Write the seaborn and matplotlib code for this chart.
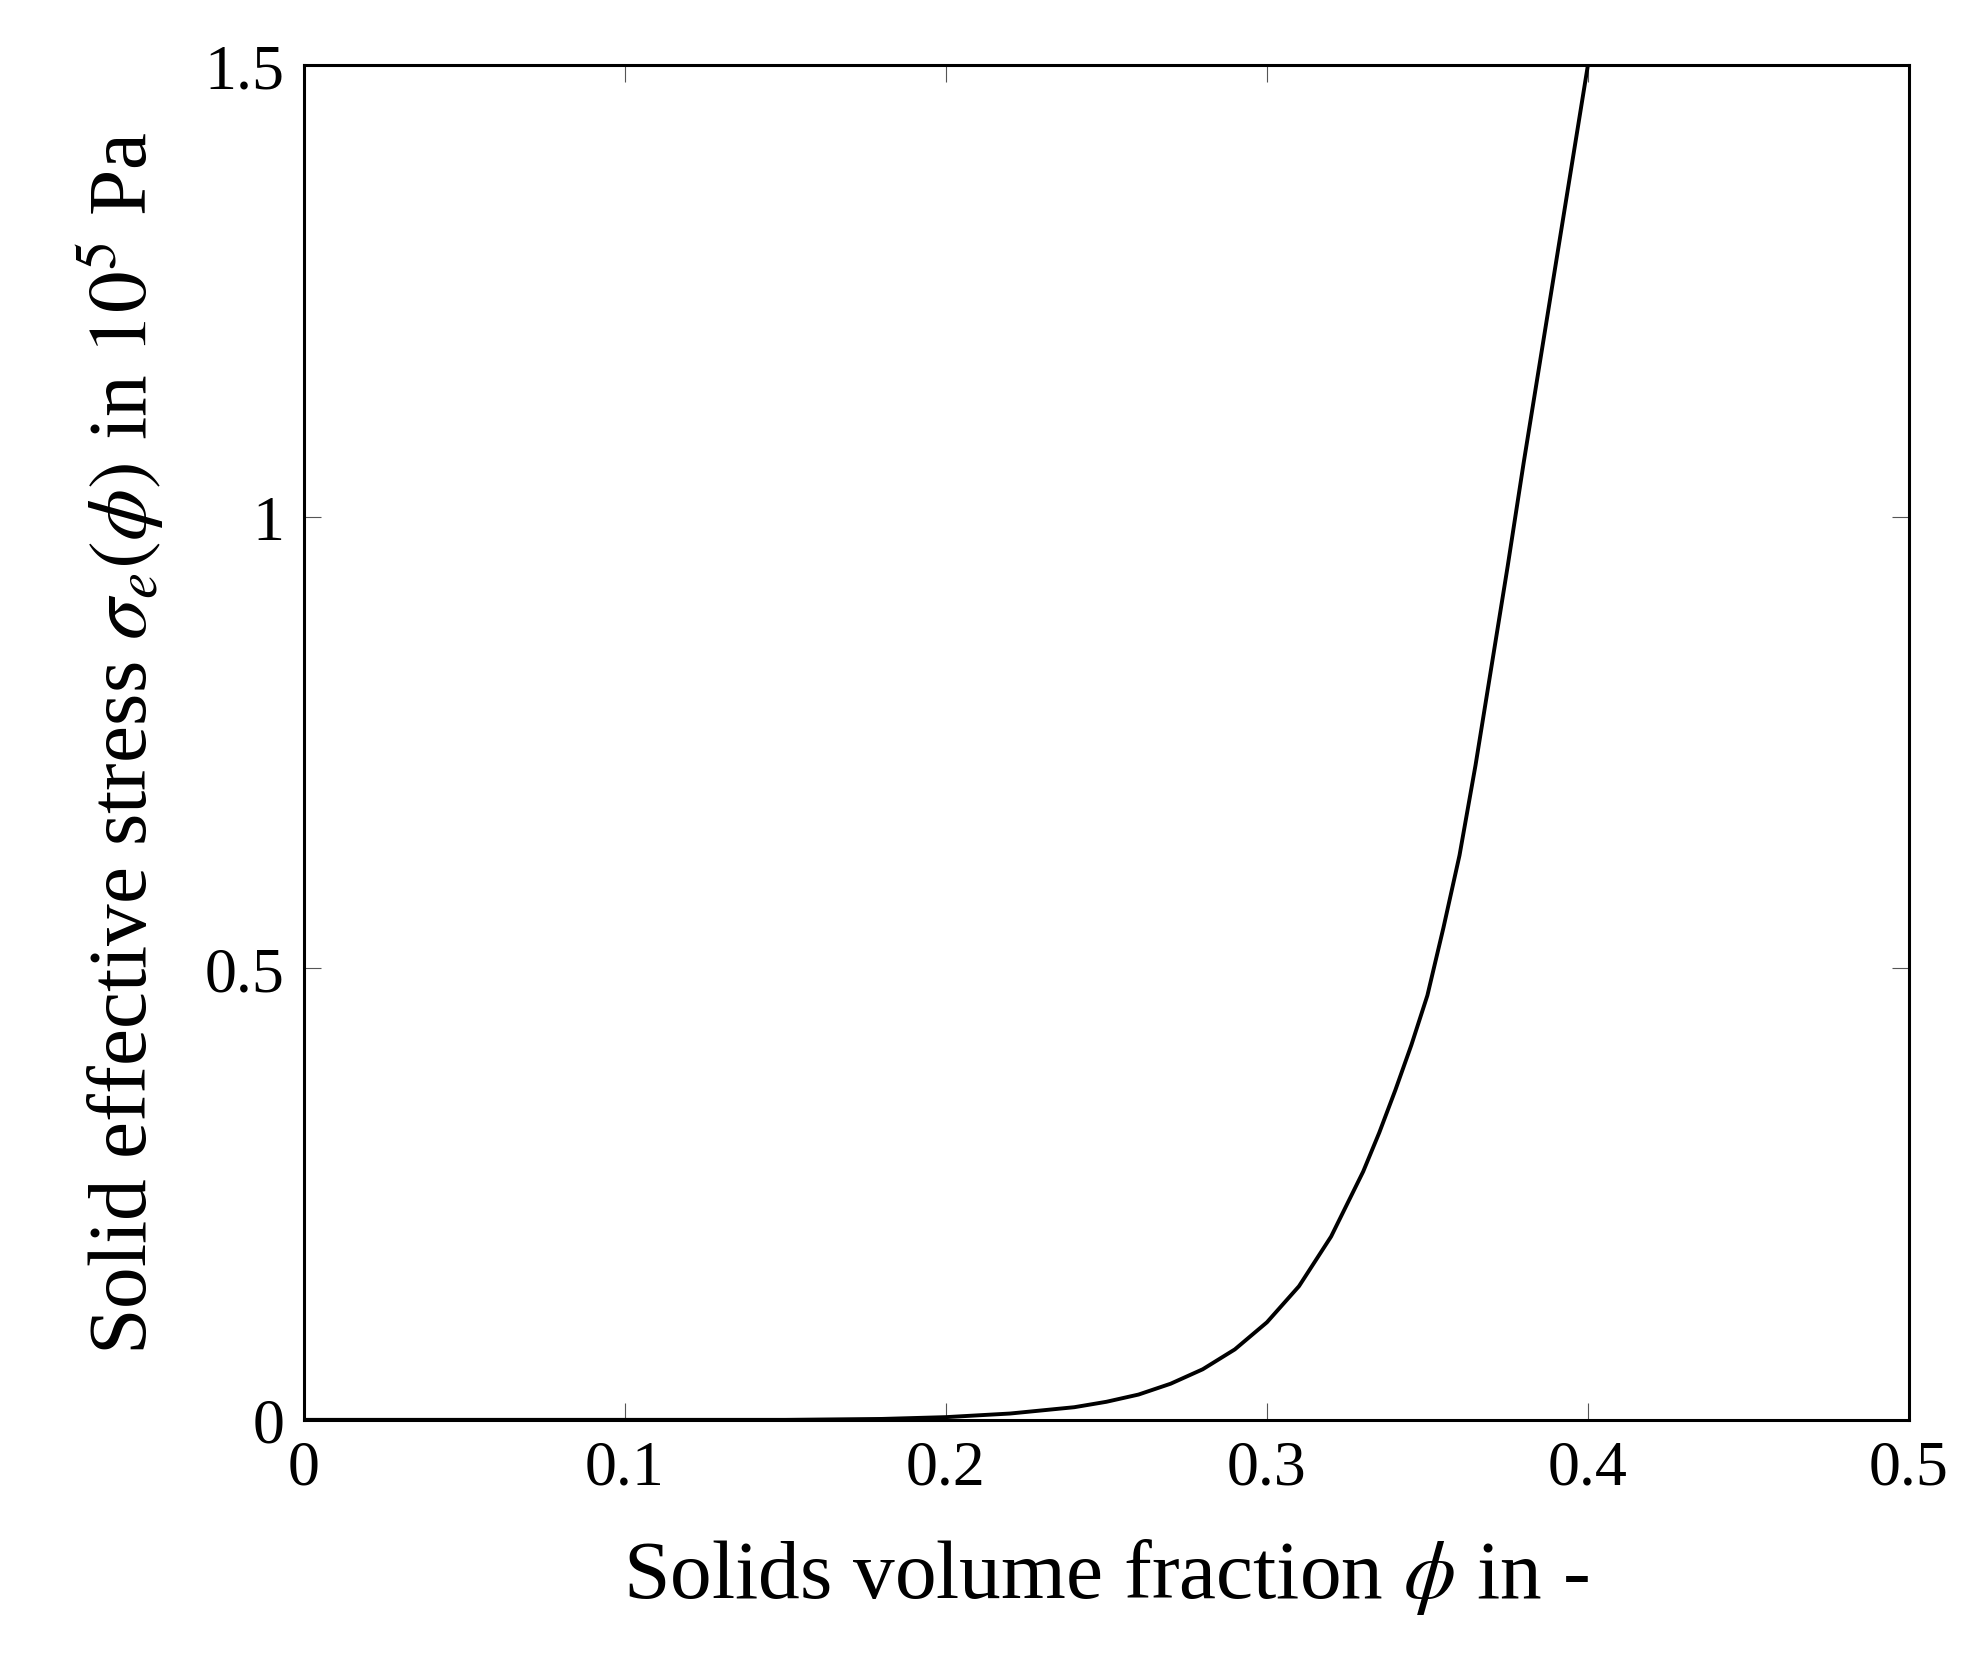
import matplotlib
matplotlib.use("Agg")
import matplotlib.pyplot as plt
import seaborn as sns
import pandas as pd

phi = [0.0, 0.10, 0.15, 0.18, 0.20, 0.22, 0.24, 0.25, 0.26, 0.27, 0.28, 0.29, 0.30, 0.31, 0.32,
       0.33, 0.335, 0.34, 0.345, 0.35, 0.355, 0.36, 0.365, 0.37, 0.375, 0.38, 0.385, 0.39, 0.395, 0.40]
sigma = [0.0, 0.0, 0.0, 0.001, 0.003, 0.007, 0.014, 0.020, 0.028, 0.040, 0.056, 0.078, 0.108,
         0.148, 0.203, 0.275, 0.318, 0.365, 0.415, 0.470, 0.545, 0.625, 0.725, 0.835, 0.945,
         1.060, 1.170, 1.280, 1.390, 1.500]
xticks = [0, 0.1, 0.2, 0.3, 0.4, 0.5]
xticklabels = ["0", "0.1", "0.2", "0.3", "0.4", "0.5"]
yticks = [0, 0.5, 1.0, 1.5]
yticklabels = ["0", "0.5", "1", "1.5"]

sns.set_style("ticks")
plt.rcParams["font.family"] = ["Liberation Serif", "DejaVu Serif"]
plt.rcParams["mathtext.fontset"] = "stix"
plt.rcParams["text.color"] = "black"
plt.rcParams["axes.labelcolor"] = "black"
plt.rcParams["xtick.labelcolor"] = "black"
plt.rcParams["ytick.labelcolor"] = "black"

fig = plt.figure(figsize=(19.74, 16.56), dpi=100)
ax = fig.add_axes([0.154, 0.142, 0.813, 0.818])
df = pd.DataFrame({"phi": phi, "sigma": sigma})
sns.lineplot(data=df, x="phi", y="sigma", ax=ax, color="black", linewidth=2.8)
ax.set_xlim(0, 0.5)
ax.set_ylim(0, 1.5)
ax.set_xticks(xticks)
ax.set_xticklabels(xticklabels)
ax.set_yticks(yticks)
ax.set_yticklabels(yticklabels)
ax.tick_params(direction="in", top=True, right=True, length=12, width=0.8,
               color="#555555", labelsize=46, pad=14)
for s in ax.spines.values():
    s.set_linewidth(2.2)
    s.set_color("black")
ax.set_xlabel(r"Solids volume fraction $\phi$ in -", fontsize=60, labelpad=28)
ax.set_ylabel(r"Solid effective stress $\sigma_e(\phi)$ in $10^5$ Pa", fontsize=60, labelpad=28)
fig.savefig("out.png", dpi=100)
